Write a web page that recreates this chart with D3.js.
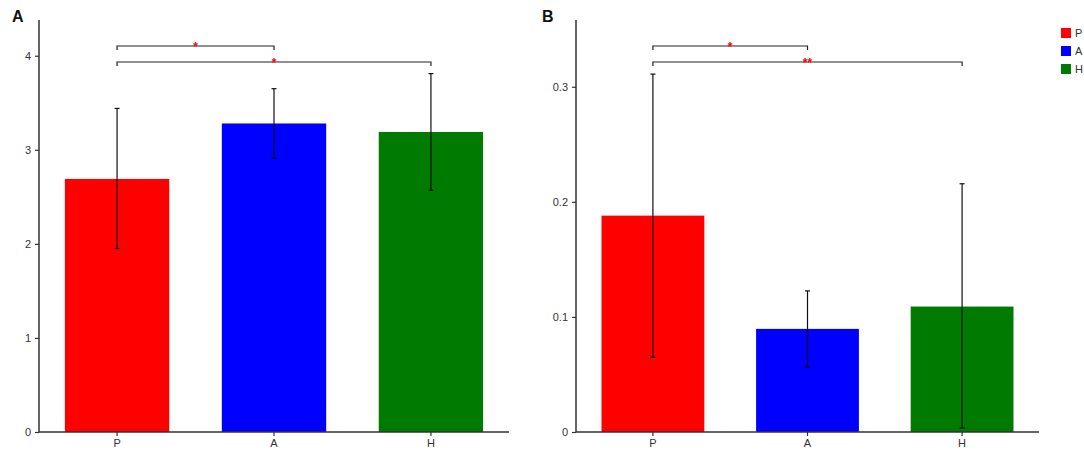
<!DOCTYPE html>
<html lang="en">
<head>
    <meta charset="UTF-8">
    <script src="https://cdn.jsdelivr.net/npm/d3@7"></script>
    <title>P A H</title>
    <style>
        body { margin: 0; background: #fff; }
        svg text { font-family: Arial, "Liberation Sans", sans-serif; }
    </style>
</head>
<body>
<svg width="1084" height="450"></svg>
<script>
    var groups = ["P", "A", "H"];
    var colors = ["#ff0000", "#0000ff", "#007a00"];

    // panel A
    var meanA = [2.69, 3.28, 3.19];
    var lowA = [1.95, 2.91, 2.57];
    var highA = [3.44, 3.65, 3.81];
    var ticksA = [0, 1, 2, 3, 4];

    // panel B
    var meanB = [0.188, 0.0896, 0.109];
    var lowB = [0.065, 0.0565, 0.0035];
    var highB = [0.311, 0.1226, 0.2157];
    var ticksB = [0, 0.1, 0.2, 0.3];

    // significance brackets: [from, to, label]
    var sigA = [["P", "A", "*"], ["P", "H", "*"]];
    var sigB = [["P", "A", "*"], ["P", "H", "**"]];

    var svg = d3.select("svg");

    function panel(opt) {
        var y = d3.scaleLinear().domain([0, opt.max]).range([432, 20]);
        var x = d3.scaleBand().domain(groups).range([opt.left, opt.right])
            .paddingInner(0.335).paddingOuter(0.165);
        var g = svg.append("g");

        g.selectAll("rect.bar")
            .data(opt.mean)
            .enter()
            .append("rect")
            .attr("class", "bar")
            .attr("x", function (d, i) { return x(groups[i]); })
            .attr("y", function (d) { return y(d); })
            .attr("width", x.bandwidth())
            .attr("height", function (d) { return y(0) - y(d); })
            .attr("fill", function (d, i) { return colors[i]; });

        // error bars
        var cx = function (i) { return x(groups[i]) + x.bandwidth() / 2; };
        var eb = g.selectAll("g.err")
            .data(opt.mean)
            .enter()
            .append("g")
            .attr("stroke", "#111")
            .attr("stroke-width", 1.2);
        eb.append("line")
            .attr("x1", function (d, i) { return cx(i); })
            .attr("x2", function (d, i) { return cx(i); })
            .attr("y1", function (d, i) { return y(opt.low[i]); })
            .attr("y2", function (d, i) { return y(opt.high[i]); });
        eb.append("line")
            .attr("x1", function (d, i) { return cx(i) - 2.5; })
            .attr("x2", function (d, i) { return cx(i) + 2.5; })
            .attr("y1", function (d, i) { return y(opt.high[i]); })
            .attr("y2", function (d, i) { return y(opt.high[i]); });
        eb.append("line")
            .attr("x1", function (d, i) { return cx(i) - 2.5; })
            .attr("x2", function (d, i) { return cx(i) + 2.5; })
            .attr("y1", function (d, i) { return y(opt.low[i]); })
            .attr("y2", function (d, i) { return y(opt.low[i]); });

        // axes
        var ya = g.append("g")
            .attr("transform", "translate(" + opt.left + ",0)")
            .call(d3.axisLeft(y).tickValues(opt.ticks).tickSize(4).tickPadding(4)
                .tickFormat(function (d) { return d; }));
        ya.select(".domain").attr("d", "M0,20V432");
        var xa = g.append("g")
            .attr("transform", "translate(0,432)")
            .call(d3.axisBottom(x).tickSize(4).tickPadding(3));
        xa.select(".domain").attr("d", "M" + opt.left + ",0H" + opt.right);
        g.selectAll(".domain").attr("stroke", "#333").attr("stroke-width", 1.5);
        g.selectAll(".tick line").attr("stroke", "#333").attr("stroke-width", 1.2);
        g.selectAll(".tick text").attr("fill", "#333").attr("font-size", 11)
            .attr("font-family", "Arial, 'Liberation Sans', sans-serif");

        // brackets
        var by = [46, 62];
        opt.sig.forEach(function (s, k) {
            var x1 = x(s[0]) + x.bandwidth() / 2, x2 = x(s[1]) + x.bandwidth() / 2;
            g.append("path")
                .attr("d", "M" + x1 + "," + (by[k] + 4) + "V" + by[k] + "H" + x2 + "V" + (by[k] + 4))
                .attr("fill", "none")
                .attr("stroke", "#222")
                .attr("stroke-width", 1.2);
            g.append("text")
                .attr("x", (x1 + x2) / 2)
                .attr("y", by[k] + 5)
                .attr("text-anchor", "middle")
                .attr("fill", "#ff0000")
                .attr("font-size", 12)
                .attr("font-weight", "bold")
                .text(s[2]);
        });

        g.append("text")
            .attr("x", opt.labelX)
            .attr("y", 22)
            .attr("font-size", 16)
            .attr("font-weight", "bold")
            .attr("fill", "#111")
            .text(opt.label);
    }

    panel({mean: meanA, low: lowA, high: highA, ticks: ticksA, max: 4.38,
        left: 39, right: 509, sig: sigA, label: "A", labelX: 12});
    panel({mean: meanB, low: lowB, high: highB, ticks: ticksB, max: 0.358,
        left: 576, right: 1039, sig: sigB, label: "B", labelX: 542});

    // legend
    var lg = svg.append("g").attr("transform", "translate(1061,28)");
    groups.forEach(function (name, i) {
        lg.append("rect")
            .attr("x", 0).attr("y", i * 18)
            .attr("width", 10).attr("height", 10)
            .attr("fill", colors[i]);
        lg.append("text")
            .attr("x", 14).attr("y", i * 18 + 9)
            .attr("font-size", 11)
            .attr("fill", "#333")
            .text(name);
    });
</script>
</body>
</html>
